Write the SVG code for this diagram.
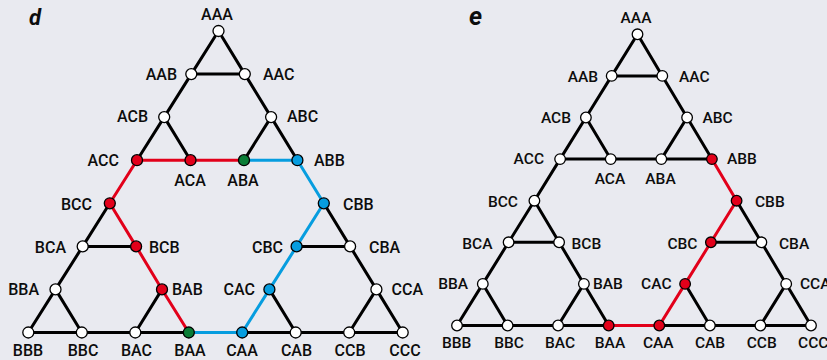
<svg xmlns="http://www.w3.org/2000/svg" width="827" height="360" viewBox="0 0 827 360">
<style>
.bg{fill:#e9eaf0}
.k{stroke:#000;stroke-width:3;fill:none;stroke-linecap:round}
.r{stroke:#e2001a;stroke-width:3;fill:none;stroke-linejoin:round}
.b{stroke:#069ddf;stroke-width:3;fill:none;stroke-linejoin:round}
circle{stroke:#000;stroke-width:1.3;fill:#fff}
.nr{fill:#e2001a}
.nb{fill:#069ddf}
.ng{fill:#0a7d36}
text{font-family:Roboto,"Liberation Sans",Arial,sans-serif;font-weight:500;font-size:16px;fill:#0d0d0d}
.e2 text{font-size:15.5px}
.m{text-anchor:middle}
.s{text-anchor:start}
.n{text-anchor:end}
.tag{font-style:italic;font-weight:700}
</style>
<rect class="bg" x="0" y="0" width="827" height="360"/>
<text class="tag" x="29" y="25" style="font-size:22px">d</text>
<text class="tag" x="469" y="25" style="font-size:25px">e</text>
<g id="connectors-d">
<line class="k" x1="218.5" y1="31" x2="191.3" y2="74.1"/>
<line class="k" x1="218.5" y1="31" x2="244.8" y2="74.1"/>
<line class="k" x1="191.3" y1="74.1" x2="244.8" y2="74.1"/>
<line class="k" x1="191.3" y1="74.1" x2="164.2" y2="117.1"/>
<line class="k" x1="244.8" y1="74.1" x2="271.1" y2="117.1"/>
<line class="k" x1="164.2" y1="117.1" x2="137" y2="160.2"/>
<line class="k" x1="164.2" y1="117.1" x2="190.5" y2="160.2"/>
<line class="k" x1="271.1" y1="117.1" x2="244" y2="160.2"/>
<line class="k" x1="271.1" y1="117.1" x2="297.4" y2="160.2"/>
<line class="k" x1="109.8" y1="203.3" x2="82.7" y2="246.4"/>
<line class="k" x1="82.7" y1="246.4" x2="136.1" y2="246.4"/>
<line class="k" x1="82.7" y1="246.4" x2="55.5" y2="289.4"/>
<line class="k" x1="55.5" y1="289.4" x2="28.3" y2="332.5"/>
<line class="k" x1="55.5" y1="289.4" x2="81.8" y2="332.5"/>
<line class="k" x1="28.3" y1="332.5" x2="81.8" y2="332.5"/>
<line class="k" x1="81.8" y1="332.5" x2="135.3" y2="332.5"/>
<line class="k" x1="135.3" y1="332.5" x2="162" y2="289.4"/>
<line class="k" x1="135.3" y1="332.5" x2="188.8" y2="332.5"/>
<line class="k" x1="323.8" y1="203.3" x2="350.1" y2="246.4"/>
<line class="k" x1="296.6" y1="246.4" x2="350.1" y2="246.4"/>
<line class="k" x1="350.1" y1="246.4" x2="376.4" y2="289.4"/>
<line class="k" x1="269.4" y1="289.4" x2="295.7" y2="332.5"/>
<line class="k" x1="242.2" y1="332.5" x2="295.7" y2="332.5"/>
<line class="k" x1="295.7" y1="332.5" x2="349.2" y2="332.5"/>
<line class="k" x1="376.4" y1="289.4" x2="349.2" y2="332.5"/>
<line class="k" x1="376.4" y1="289.4" x2="402.7" y2="332.5"/>
<line class="k" x1="349.2" y1="332.5" x2="402.7" y2="332.5"/>
<polyline class="r" points="244,160.2 190.5,160.2 137,160.2 109.8,203.3 136.1,246.4 162,289.4 188.8,332.5"/>
<polyline class="b" points="244,160.2 297.4,160.2 323.8,203.3 296.6,246.4 269.4,289.4 242.2,332.5 188.8,332.5"/>
</g>
<g id="connectors-e">
<line class="k" x1="637.5" y1="34.3" x2="611.7" y2="75.9"/>
<line class="k" x1="637.5" y1="34.3" x2="662.3" y2="75.9"/>
<line class="k" x1="611.7" y1="75.9" x2="662.3" y2="75.9"/>
<line class="k" x1="611.7" y1="75.9" x2="585.9" y2="117.5"/>
<line class="k" x1="662.3" y1="75.9" x2="687.1" y2="117.5"/>
<line class="k" x1="585.9" y1="117.5" x2="560.1" y2="159.1"/>
<line class="k" x1="585.9" y1="117.5" x2="610.7" y2="159.1"/>
<line class="k" x1="560.1" y1="159.1" x2="610.7" y2="159.1"/>
<line class="k" x1="610.7" y1="159.1" x2="661.3" y2="159.1"/>
<line class="k" x1="661.3" y1="159.1" x2="711.9" y2="159.1"/>
<line class="k" x1="687.1" y1="117.5" x2="661.3" y2="159.1"/>
<line class="k" x1="687.1" y1="117.5" x2="711.9" y2="159.1"/>
<line class="k" x1="560.1" y1="159.1" x2="534.4" y2="200.7"/>
<line class="k" x1="534.4" y1="200.7" x2="508.6" y2="242.3"/>
<line class="k" x1="534.4" y1="200.7" x2="559.1" y2="242.3"/>
<line class="k" x1="508.6" y1="242.3" x2="559.1" y2="242.3"/>
<line class="k" x1="508.6" y1="242.3" x2="482.8" y2="283.9"/>
<line class="k" x1="559.1" y1="242.3" x2="583.9" y2="283.9"/>
<line class="k" x1="482.8" y1="283.9" x2="457" y2="325.5"/>
<line class="k" x1="482.8" y1="283.9" x2="507.6" y2="325.5"/>
<line class="k" x1="457" y1="325.5" x2="507.6" y2="325.5"/>
<line class="k" x1="507.6" y1="325.5" x2="558.1" y2="325.5"/>
<line class="k" x1="583.9" y1="283.9" x2="558.1" y2="325.5"/>
<line class="k" x1="583.9" y1="283.9" x2="608.7" y2="325.5"/>
<line class="k" x1="558.1" y1="325.5" x2="608.7" y2="325.5"/>
<line class="k" x1="736.6" y1="200.7" x2="761.4" y2="242.3"/>
<line class="k" x1="710.9" y1="242.3" x2="761.4" y2="242.3"/>
<line class="k" x1="761.4" y1="242.3" x2="786.2" y2="283.9"/>
<line class="k" x1="685.1" y1="283.9" x2="709.9" y2="325.5"/>
<line class="k" x1="659.3" y1="325.5" x2="709.9" y2="325.5"/>
<line class="k" x1="709.9" y1="325.5" x2="760.4" y2="325.5"/>
<line class="k" x1="786.2" y1="283.9" x2="760.4" y2="325.5"/>
<line class="k" x1="786.2" y1="283.9" x2="811" y2="325.5"/>
<line class="k" x1="760.4" y1="325.5" x2="811" y2="325.5"/>
<polyline class="r" points="711.9,159.1 736.6,200.7 710.9,242.3 685.1,283.9 659.3,325.5 608.7,325.5"/>
</g>
<g id="nodes-d">
<g id="d-AAA"><circle cx="218.5" cy="31" r="5.5"/><text class="m" x="217" y="20">AAA</text></g>
<g id="d-AAB"><circle cx="191.3" cy="74.1" r="5.5"/><text class="n" x="177" y="80">AAB</text></g>
<g id="d-AAC"><circle cx="244.8" cy="74.1" r="5.5"/><text class="s" x="263" y="80">AAC</text></g>
<g id="d-ACB"><circle cx="164.2" cy="117.1" r="5.5"/><text class="n" x="148" y="122">ACB</text></g>
<g id="d-ABC"><circle cx="271.1" cy="117.1" r="5.5"/><text class="s" x="287" y="122">ABC</text></g>
<g id="d-ACC"><circle class="nr" cx="137" cy="160.2" r="5.5"/><text class="n" x="119" y="166">ACC</text></g>
<g id="d-ACA"><circle class="nr" cx="190.5" cy="160.2" r="5.5"/><text class="m" x="190" y="186">ACA</text></g>
<g id="d-ABA"><circle class="ng" cx="244" cy="160.2" r="5.5"/><text class="m" x="243" y="186">ABA</text></g>
<g id="d-ABB"><circle class="nb" cx="297.4" cy="160.2" r="5.5"/><text class="s" x="314" y="166">ABB</text></g>
<g id="d-BCC"><circle class="nr" cx="109.8" cy="203.3" r="5.5"/><text class="n" x="92" y="210">BCC</text></g>
<g id="d-CBB"><circle class="nb" cx="323.8" cy="203.3" r="5.5"/><text class="s" x="343" y="210">CBB</text></g>
<g id="d-BCA"><circle cx="82.7" cy="246.4" r="5.5"/><text class="n" x="66" y="253">BCA</text></g>
<g id="d-BCB"><circle class="nr" cx="136.1" cy="246.4" r="5.5"/><text class="s" x="149" y="253">BCB</text></g>
<g id="d-CBC"><circle class="nb" cx="296.6" cy="246.4" r="5.5"/><text class="n" x="283" y="253">CBC</text></g>
<g id="d-CBA"><circle cx="350.1" cy="246.4" r="5.5"/><text class="s" x="369" y="253">CBA</text></g>
<g id="d-BBA"><circle cx="55.5" cy="289.4" r="5.5"/><text class="n" x="39" y="295">BBA</text></g>
<g id="d-BAB"><circle class="nr" cx="162" cy="289.4" r="5.5"/><text class="s" x="172" y="295">BAB</text></g>
<g id="d-CAC"><circle class="nb" cx="269.4" cy="289.4" r="5.5"/><text class="n" x="255" y="295">CAC</text></g>
<g id="d-CCA"><circle cx="376.4" cy="289.4" r="5.5"/><text class="s" x="391.5" y="295">CCA</text></g>
<g id="d-BBB"><circle cx="28.3" cy="332.5" r="5.5"/><text class="m" x="28" y="356">BBB</text></g>
<g id="d-BBC"><circle cx="81.8" cy="332.5" r="5.5"/><text class="m" x="83" y="356">BBC</text></g>
<g id="d-BAC"><circle cx="135.3" cy="332.5" r="5.5"/><text class="m" x="136.5" y="356">BAC</text></g>
<g id="d-BAA"><circle class="ng" cx="188.8" cy="332.5" r="5.5"/><text class="m" x="190" y="356">BAA</text></g>
<g id="d-CAA"><circle class="nb" cx="242.2" cy="332.5" r="5.5"/><text class="m" x="242" y="356">CAA</text></g>
<g id="d-CAB"><circle cx="295.7" cy="332.5" r="5.5"/><text class="m" x="296.5" y="356">CAB</text></g>
<g id="d-CCB"><circle cx="349.2" cy="332.5" r="5.5"/><text class="m" x="350" y="356">CCB</text></g>
<g id="d-CCC"><circle cx="402.7" cy="332.5" r="5.5"/><text class="m" x="405" y="356">CCC</text></g>
</g>
<g id="nodes-e" class="e2">
<g id="e-AAA"><circle cx="637.5" cy="34.3" r="5.3"/><text class="m" x="636" y="22.5">AAA</text></g>
<g id="e-AAB"><circle cx="611.7" cy="75.9" r="5.3"/><text class="n" x="598" y="81.5">AAB</text></g>
<g id="e-AAC"><circle cx="662.3" cy="75.9" r="5.3"/><text class="s" x="679" y="81.5">AAC</text></g>
<g id="e-ACB"><circle cx="585.9" cy="117.5" r="5.3"/><text class="n" x="571" y="122.5">ACB</text></g>
<g id="e-ABC"><circle cx="687.1" cy="117.5" r="5.3"/><text class="s" x="702.5" y="122.5">ABC</text></g>
<g id="e-ACC"><circle cx="560.1" cy="159.1" r="5.3"/><text class="n" x="544" y="164">ACC</text></g>
<g id="e-ACA"><circle cx="610.7" cy="159.1" r="5.3"/><text class="m" x="610" y="184">ACA</text></g>
<g id="e-ABA"><circle cx="661.3" cy="159.1" r="5.3"/><text class="m" x="660.5" y="184">ABA</text></g>
<g id="e-ABB"><circle class="nr" cx="711.9" cy="159.1" r="5.3"/><text class="s" x="727" y="164">ABB</text></g>
<g id="e-BCC"><circle cx="534.4" cy="200.7" r="5.3"/><text class="n" x="518" y="206.5">BCC</text></g>
<g id="e-CBB"><circle class="nr" cx="736.6" cy="200.7" r="5.3"/><text class="s" x="755" y="206.5">CBB</text></g>
<g id="e-BCA"><circle cx="508.6" cy="242.3" r="5.3"/><text class="n" x="492.5" y="249">BCA</text></g>
<g id="e-BCB"><circle cx="559.1" cy="242.3" r="5.3"/><text class="s" x="571.5" y="249">BCB</text></g>
<g id="e-CBC"><circle class="nr" cx="710.9" cy="242.3" r="5.3"/><text class="n" x="697.5" y="249">CBC</text></g>
<g id="e-CBA"><circle cx="761.4" cy="242.3" r="5.3"/><text class="s" x="779" y="249">CBA</text></g>
<g id="e-BBA"><circle cx="482.8" cy="283.9" r="5.3"/><text class="n" x="468" y="289">BBA</text></g>
<g id="e-BAB"><circle cx="583.9" cy="283.9" r="5.3"/><text class="s" x="593" y="289">BAB</text></g>
<g id="e-CAC"><circle class="nr" cx="685.1" cy="283.9" r="5.3"/><text class="n" x="671.5" y="289">CAC</text></g>
<g id="e-CCA"><circle cx="786.2" cy="283.9" r="5.3"/><text class="s" x="800" y="289">CCA</text></g>
<g id="e-BBB"><circle cx="457" cy="325.5" r="5.3"/><text class="m" x="456.7" y="348.3">BBB</text></g>
<g id="e-BBC"><circle cx="507.6" cy="325.5" r="5.3"/><text class="m" x="509" y="348.3">BBC</text></g>
<g id="e-BAC"><circle cx="558.1" cy="325.5" r="5.3"/><text class="m" x="560" y="348.3">BAC</text></g>
<g id="e-BAA"><circle class="nr" cx="608.7" cy="325.5" r="5.3"/><text class="m" x="610" y="348.3">BAA</text></g>
<g id="e-CAA"><circle class="nr" cx="659.3" cy="325.5" r="5.3"/><text class="m" x="658.3" y="348.3">CAA</text></g>
<g id="e-CAB"><circle cx="709.9" cy="325.5" r="5.3"/><text class="m" x="710" y="348.3">CAB</text></g>
<g id="e-CCB"><circle cx="760.4" cy="325.5" r="5.3"/><text class="m" x="761.7" y="348.3">CCB</text></g>
<g id="e-CCC"><circle cx="811" cy="325.5" r="5.3"/><text class="m" x="813.3" y="348.3">CCC</text></g>
</g>
</svg>
